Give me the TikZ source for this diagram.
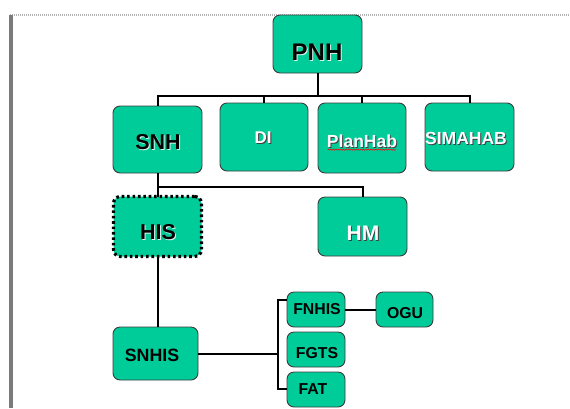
\documentclass[tikz,border=0pt]{standalone}
\usepackage{fontspec}
\setmainfont{Liberation Sans}
\usetikzlibrary{decorations.pathmorphing,calc}
\definecolor{boxgreen}{RGB}{0,204,153}
\definecolor{boxedge}{RGB}{60,60,60}
\tikzset{
  orgbox/.style={draw=boxedge, line width=0.9pt, fill=boxgreen, rounded corners=7pt, inner sep=0pt},
  hisbox/.style={draw=black, line width=3.2pt, dash pattern=on 2.6pt off 2.8pt, fill=boxgreen, rounded corners=7pt, inner sep=0pt},
  conn/.style={draw=black, line width=2pt},
  wtxt/.style={text=white, inner sep=0pt},
  btxt/.style={text=black, inner sep=0pt},
  shadowd/.style={text=black!75, inner sep=0pt},
  shadoww/.style={text=white!85!boxgreen, inner sep=0pt},
}
\newcommand{\shtext}[6]{% name, x, y, text, textstyle, shadowstyle
  \node[#6] at ($(#2,#3)+(1,1)$) {#4};
  \node[#5] (#1) at (#2,#3) {#4};
}
\begin{document}
\begin{tikzpicture}[x=1pt,y=-1pt]
\useasboundingbox (0,0) rectangle (570,408);
% frame of the page
\draw[gray!60, line width=1.2pt, dash pattern=on 1pt off 1pt] (10,15) -- (570,15);
\draw[gray!70!black!80, line width=4pt] (11,15) -- (11,408);
% boxes
\node[orgbox, minimum width=89pt, minimum height=58pt] (pnh) at (317.5,44) {};
\node[orgbox, minimum width=89pt, minimum height=67pt] (snh) at (157.5,139.5) {};
\node[orgbox, minimum width=88pt, minimum height=68pt] (di) at (264,137) {};
\node[orgbox, minimum width=88pt, minimum height=70pt] (planhab) at (362,138) {};
\node[orgbox, minimum width=89pt, minimum height=68pt] (simahab) at (469.5,137) {};
\node[hisbox, minimum width=88pt, minimum height=60pt] (his) at (157.5,226.5) {};
\node[orgbox, minimum width=89pt, minimum height=59pt] (hm) at (362.5,226.5) {};
\node[orgbox, minimum width=85pt, minimum height=53pt] (snhis) at (155.5,353.5) {};
\node[orgbox, minimum width=58pt, minimum height=35pt] (fnhis) at (316,309.5) {};
\node[orgbox, minimum width=58pt, minimum height=35pt] (fgts) at (316,349.5) {};
\node[orgbox, minimum width=58pt, minimum height=35pt] (fat) at (316,389.5) {};
\node[orgbox, minimum width=57pt, minimum height=35pt] (ogu) at (404.5,309.5) {};
% connectors
\coordinate (bus) at (0,96);
\coordinate (bus2) at (0,187);
\coordinate (bt) at (278,300);
\coordinate (bb) at (278,389);
\draw[conn] (pnh.south) -- (pnh.south |- bus);
\draw[conn] (snh.north) -- (snh.north |- bus) -| (simahab.north);
\draw[conn] (di.north) -- (di.north |- bus);
\draw[conn] (planhab.north) -- (planhab.north |- bus);
\draw[conn] (snh.south) -- (snh.south |- bus2) -| (hm.north);
\draw[conn] (snh.south |- bus2) -- ([yshift=-2pt]his.north);
\draw[conn] ([yshift=2pt]his.south) -- (his.south |- snhis.north);
\draw[conn] (snhis.east) -- (snhis.east -| bt);
\draw[conn] (fnhis.west |- bt) -- (bt) -- (bb) -- (bb -| fat.west);
\draw[conn] (fnhis.east) -- (ogu.west);
% texts
\shtext{tpnh}{317}{52}{\fontsize{24}{24}\selectfont\bfseries PNH}{btxt}{shadoww}
\shtext{tsnh}{158}{142}{\fontsize{21.5}{22}\selectfont\bfseries SNH}{btxt}{shadoww}
\shtext{tdi}{263}{138}{\fontsize{17}{17}\selectfont\bfseries DI}{wtxt}{shadowd}
\shtext{tplanhab}{362}{141}{\fontsize{17.5}{18}\selectfont\bfseries PlanHab}{wtxt}{shadowd}
\shtext{tsimahab}{466}{138}{\fontsize{17.5}{18}\selectfont\bfseries SIMAHAB}{wtxt}{shadowd}
\shtext{this}{158}{232}{\fontsize{21.5}{22}\selectfont\bfseries HIS}{btxt}{shadoww}
\shtext{thm}{363}{233}{\fontsize{21}{22}\selectfont\bfseries HM}{wtxt}{shadowd}
\node[btxt] (tsnhis) at (152,355) {\fontsize{17.8}{18}\selectfont\bfseries SNHIS};
\node[btxt] (tfnhis) at (317,309) {\fontsize{15.8}{16}\selectfont\bfseries FNHIS};
\node[btxt] (tfgts) at (317,353) {\fontsize{15.8}{16}\selectfont\bfseries FGTS};
\node[btxt] (tfat) at (313,389) {\fontsize{15.8}{16}\selectfont\bfseries FAT};
\node[btxt] (togu) at (405,313) {\fontsize{15.8}{16}\selectfont\bfseries OGU};
% spell-check underline under PlanHab
\draw[red, line width=0.5pt, decorate, decoration={snake, amplitude=0.6pt, segment length=2.5pt}]
  ($(tplanhab.south west)+(1,2)$) -- ($(tplanhab.south east)+(-1,2)$);
\end{tikzpicture}
\end{document}
